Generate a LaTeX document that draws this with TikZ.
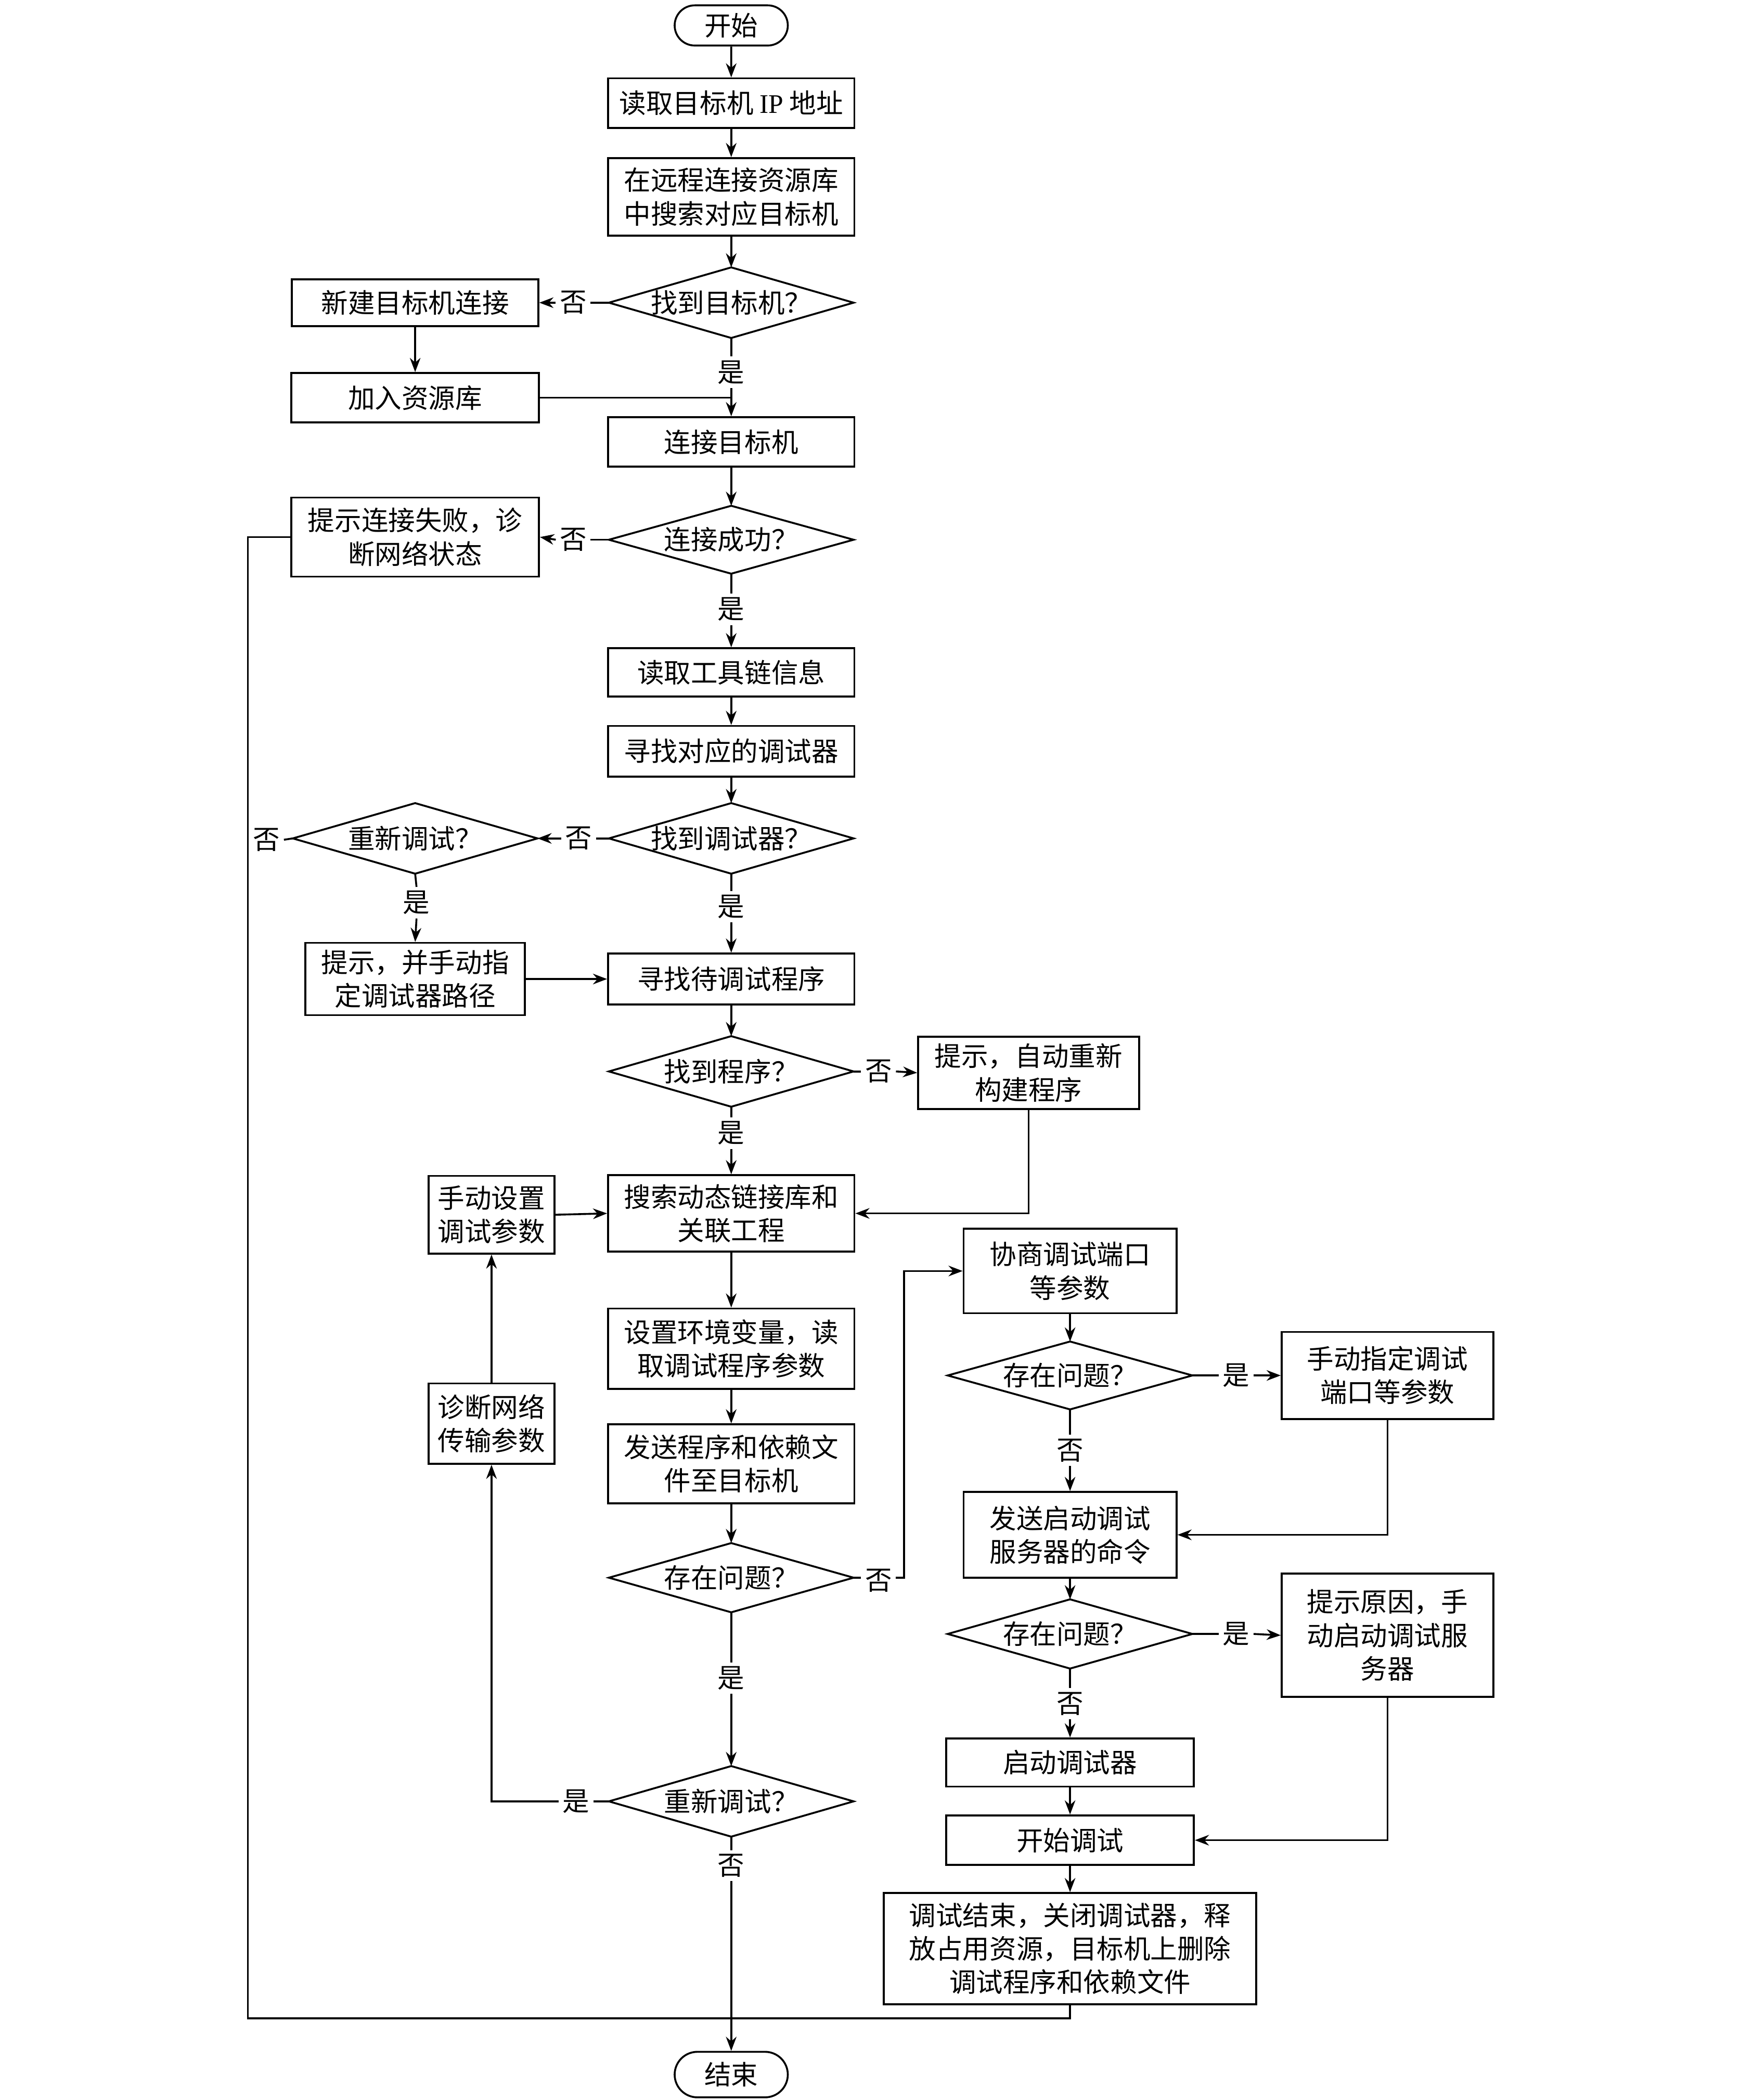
\documentclass[tikz,border=0pt]{standalone}
\usepackage{fontspec}
\setmainfont{Noto Sans CJK SC}
\newfontfamily\lat{Liberation Serif}
\usetikzlibrary{arrows.meta,shapes.misc,calc}
\begin{document}
\begin{tikzpicture}[x=0.02cm,y=-0.02cm,
  every node/.style={font=\fontsize{11.4}{14.2}\selectfont},
  sz/.style 2 args={minimum width=#1*0.02cm, minimum height=#2*0.02cm},
  box/.style={draw, rectangle, line width=0.8pt, align=center, inner sep=1pt},
  term/.style={draw, rounded rectangle, line width=0.8pt, inner sep=1pt},
  dec/.style={rectangle, inner sep=0pt, align=center},
  lbl/.style={fill=white, inner sep=1.5pt},
  arr/.style={-{Stealth[length=6pt,width=4.5pt]}, line width=0.8pt},
  ln/.style={line width=0.8pt}]
\useasboundingbox (0,0) rectangle (1300,1568);

% main column
\node[term, sz={88}{30}] (start) at (546,19) {开始};
\node[box, sz={184}{37}] (ip) at (546,77) {读取目标机 {\lat IP} 地址};
\node[box, sz={184}{58}] (search) at (546,147) {在远程连接资源库\\中搜索对应目标机};
\node[dec, sz={182}{52}] (d1) at (546,226) {找到目标机？};
\node[box, sz={184}{35}] (newconn) at (310,226) {新建目标机连接};
\node[box, sz={185}{37}] (addlib) at (310,297) {加入资源库};
\node[box, sz={184}{37}] (conn) at (546,330) {连接目标机};
\node[dec, sz={182}{50}] (d2) at (546,403) {连接成功？};
\node[box, sz={185}{59}] (fail) at (310,401) {提示连接失败，诊\\断网络状态};
\node[box, sz={184}{36}] (tool) at (546,502) {读取工具链信息};
\node[box, sz={184}{38}] (finddbg) at (546,561) {寻找对应的调试器};
\node[dec, sz={182}{52}] (d3) at (546,626) {找到调试器？};
\node[dec, sz={182}{52}] (d4) at (310,626) {重新调试？};
\node[box, sz={164}{54}] (manual) at (310,731) {提示，并手动指\\定调试器路径};
\node[box, sz={184}{38}] (findprog) at (546,731) {寻找待调试程序};
\node[dec, sz={182}{52}] (d5) at (546,800) {找到程序？};
\node[box, sz={165}{54}] (rebuild) at (768,801) {提示，自动重新\\构建程序};
\node[box, sz={184}{57}] (dll) at (546,906) {搜索动态链接库和\\关联工程};
\node[box, sz={94}{58}] (manset) at (367,907) {手动设置\\调试参数};
\node[box, sz={184}{60}] (env) at (546,1007) {设置环境变量，读\\取调试程序参数};
\node[box, sz={184}{59}] (send) at (546,1093) {发送程序和依赖文\\件至目标机};
\node[dec, sz={182}{51}] (d6) at (546,1178) {存在问题？};
\node[dec, sz={182}{52}] (d7) at (546,1345) {重新调试？};
\node[box, sz={94}{60}] (diag) at (367,1063) {诊断网络\\传输参数};
\node[term, sz={88}{34}] (end) at (546,1549) {结束};

% right column
\node[box, sz={159}{63}] (neg) at (799,949) {协商调试端口\\等参数};
\node[dec, sz={182}{50}] (d8) at (799,1027) {存在问题？};
\node[box, sz={158}{65}] (port) at (1036,1027) {手动指定调试\\端口等参数};
\node[box, sz={159}{64}] (srv) at (799,1146) {发送启动调试\\服务器的命令};
\node[dec, sz={182}{51}] (d9) at (799,1220) {存在问题？};
\node[box, sz={158}{92}] (reason) at (1036,1221) {提示原因，手\\动启动调试服\\务器};
\node[box, sz={185}{36}] (startdbg) at (799,1316) {启动调试器};
\node[box, sz={185}{37}] (startdebug) at (799,1374) {开始调试};
\node[box, sz={278}{83}] (finish) at (799,1455) {调试结束，关闭调试器，释\\放占用资源，目标机上删除\\调试程序和依赖文件};

% diamonds outlines
\foreach \n in {d1,d2,d3,d4,d5,d6,d7,d8,d9}
  \draw[ln, line join=miter] (\n.north) -- (\n.east) -- (\n.south) -- (\n.west) -- cycle;

\coordinate (lx) at (185,1507);
\coordinate (jx) at (675,949);

% labels
\node[lbl] (l1) at (428,226) {否};
\node[lbl] (l2) at (546,278) {是};
\node[lbl] (l3) at (428,403) {否};
\node[lbl] (l4) at (546,455) {是};
\node[lbl] (l5) at (432,626) {否};
\node[lbl] (l6) at (199,627) {否};
\node[lbl] (l7) at (546,677) {是};
\node[lbl] (l8) at (311,674) {是};
\node[lbl] (l9) at (656,800) {否};
\node[lbl] (l10) at (546,846) {是};
\node[lbl] (l11) at (656,1180) {否};
\node[lbl] (l12) at (546,1253) {是};
\node[lbl] (l13) at (430,1345) {是};
\node[lbl] (l14) at (546,1393) {否};
\node[lbl] (l15) at (923,1027) {是};
\node[lbl] (l16) at (799,1083) {否};
\node[lbl] (l17) at (923,1220) {是};
\node[lbl] (l18) at (799,1272) {否};

% connectors (drawn so that the labels interrupt them)
\begin{scope}[on background layer/.try]
\end{scope}
\draw[arr] (start) -- (ip);
\draw[arr] (ip) -- (search);
\draw[arr] (search) -- (d1);
\draw[arr] (d1.west) -- (l1.east) (l1.west) -- (newconn.east);
\draw[arr] (newconn) -- (addlib);
\draw[ln] (d1.south) -- (l2.north);
\draw[arr] (l2.south) -- (conn.north);
\draw[ln] (addlib.east) -- (addlib.east -| conn.north);
\draw[arr] (conn) -- (d2.north);
\draw[ln] (d2.west) -- (l3.east);
\draw[arr] (l3.west) -- (fail.east);
\draw[ln] (d2.south) -- (l4.north);
\draw[arr] (l4.south) -- (tool.north);
\draw[arr] (tool) -- (finddbg);
\draw[arr] (finddbg) -- (d3.north);
\draw[ln] (d3.west) -- (l5.east);
\draw[arr] (l5.west) -- (d4.east);
\draw[ln] (d3.south) -- (l7.north);
\draw[arr] (l7.south) -- (findprog.north);
\draw[ln] (d4.south) -- (l8.north);
\draw[arr] (l8.south) -- (manual.north);
\draw[ln] (d4.west) -- (l6.east);
\draw[ln] (fail.west) -| (lx) -| (finish.south);
\draw[arr] (manual.east) -- (findprog.west);
\draw[arr] (findprog) -- (d5.north);
\draw[ln] (d5.east) -- (l9.west);
\draw[arr] (l9.east) -- (rebuild.west);
\draw[ln] (d5.south) -- (l10.north);
\draw[arr] (l10.south) -- (dll.north);
\draw[arr] (rebuild.south) |- (dll.east);
\draw[arr] (manset.east) -- (dll.west);
\draw[arr] (dll) -- (env);
\draw[arr] (env) -- (send);
\draw[arr] (send) -- (d6.north);
\draw[ln] (d6.east) -- (d6.east -| l11.west);
\draw[arr] (d6.east -| l11.east) -| (jx) -- (neg.west);
\draw[ln] (d6.south) -- (l12.north);
\draw[arr] (l12.south) -- (d7.north);
\draw[ln] (d7.west) -- (l13.east);
\draw[arr] (l13.west) -| (diag.south);
\draw[arr] (diag.north) -- (manset.south);
\draw[ln] (d7.south) -- (l14.north);
\draw[arr] (l14.south) -- (end.north);
\draw[arr] (neg) -- (d8.north);
\draw[ln] (d8.east) -- (l15.west);
\draw[arr] (l15.east) -- (port.west);
\draw[ln] (d8.south) -- (l16.north);
\draw[arr] (l16.south) -- (srv.north);
\draw[arr] (port.south) |- (srv.east);
\draw[arr] (srv) -- (d9.north);
\draw[ln] (d9.east) -- (l17.west);
\draw[arr] (l17.east) -- (reason.west);
\draw[ln] (d9.south) -- (l18.north);
\draw[arr] (l18.south) -- (startdbg.north);
\draw[arr] (reason.south) |- (startdebug.east);
\draw[arr] (startdbg) -- (startdebug);
\draw[arr] (startdebug) -- (finish);
\end{tikzpicture}
\end{document}
